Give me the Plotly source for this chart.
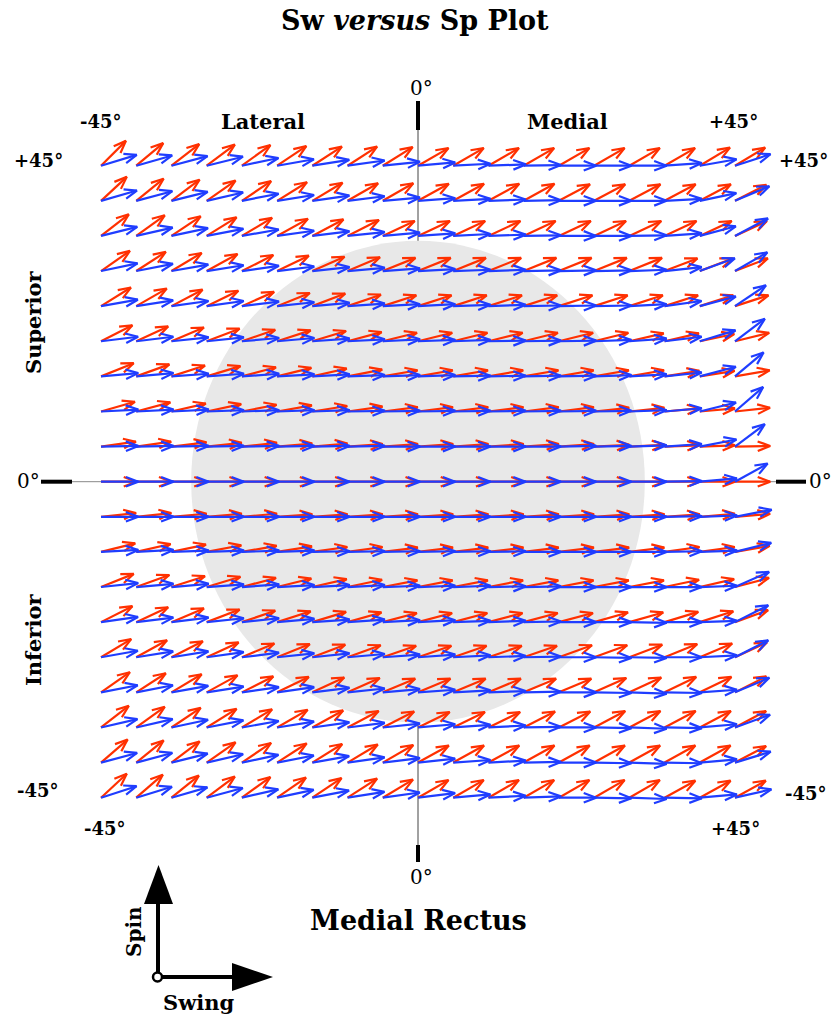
import math
import plotly.graph_objects as go

# ---------------- data ----------------
sw_cols = [-45, -40, -35, -30, -25, -20, -15, -10, -5, 0, 5, 10, 15, 20, 25, 30, 35, 40, 45]
sp_rows = [45, 40, 35, 30, 25, 20, 15, 10, 5, 0, -5, -10, -15, -20, -25, -30, -35, -40, -45]

# arrow directions (degrees, counter-clockwise from +Swing)
red_deg = [
    [45, 40, 38, 37, 36, 34, 33, 33, 32, 30, 30, 30, 30, 30, 30, 30, 30, 31, 31],
    [43, 39, 37, 35, 34, 32, 31, 30, 30, 29, 29, 29, 29, 28, 28, 28, 28, 28, 27],
    [38, 36, 34, 32, 31, 29, 28, 27, 25, 25, 25, 25, 25, 25, 25, 25, 25, 25, 25],
    [35, 33, 31, 29, 27, 26, 24, 23, 22, 22, 22, 22, 22, 22, 22, 22, 21, 21, 21],
    [32, 30, 28, 26, 24, 22, 21, 19, 18, 18, 18, 18, 18, 18, 18, 18, 18, 18, 18],
    [27, 25, 23, 21, 19, 18, 17, 15, 14, 14, 14, 14, 14, 14, 14, 13, 13, 12, 14],
    [22, 20, 18, 17, 15, 14, 13, 11, 10, 10, 10, 10, 10, 10, 10, 10, 9, 9, 10],
    [16, 15, 13, 12, 11, 10, 9, 8, 7, 7, 7, 7, 7, 7, 6, 6, 5, 5, 6],
    [8, 8, 7, 6, 6, 5, 5, 4, 4, 4, 4, 4, 4, 4, 3, 3, 2, 2, 1],
    [0, 0, 0, 0, 0, 0, 0, 0, 0, 0, 0, 0, 0, 0, 0, 0, 0, 0, 0],
    [6, 6, 5, 5, 5, 4, 4, 4, 4, 4, 4, 4, 4, 4, 4, 4, 4, 5, 5],
    [14, 13, 12, 11, 10, 9, 8, 8, 7, 7, 7, 7, 7, 7, 7, 7, 8, 8, 10],
    [22, 20, 18, 17, 15, 14, 13, 12, 11, 11, 11, 11, 11, 11, 11, 11, 12, 13, 15],
    [27, 25, 23, 21, 19, 18, 17, 16, 15, 15, 15, 15, 15, 15, 16, 16, 17, 18, 20],
    [31, 29, 27, 25, 23, 22, 21, 20, 19, 19, 19, 19, 19, 20, 20, 21, 22, 23, 25],
    [35, 33, 31, 29, 27, 26, 25, 24, 23, 23, 23, 23, 23, 23, 24, 25, 26, 26, 27],
    [38, 36, 34, 32, 31, 30, 29, 28, 27, 26, 26, 26, 27, 27, 28, 28, 28, 28, 28],
    [41, 39, 37, 35, 34, 33, 32, 31, 30, 29, 29, 29, 29, 29, 29, 29, 29, 29, 28],
    [43, 41, 39, 37, 36, 35, 34, 33, 31, 30, 30, 30, 30, 30, 30, 30, 29, 29, 29],
]
blue_deg = [
    [17, 16, 15, 14, 12, 10, 9, 8, 6, 5, 3, 2, 1, 0, 0, 0, 4, 10, 18],
    [16, 15, 14, 13, 11, 9, 8, 7, 5, 4, 3, 2, 1, 0, 0, 0, 3, 12, 23],
    [14, 13, 12, 11, 10, 8, 7, 6, 5, 4, 3, 2, 1, 0, 0, 1, 4, 15, 28],
    [12, 11, 10, 9, 8, 7, 6, 5, 4, 3, 2, 2, 1, 1, 1, 2, 6, 20, 30],
    [10, 9, 8, 8, 7, 6, 5, 4, 3, 3, 2, 2, 1, 1, 1, 3, 8, 15, 34],
    [7, 7, 6, 6, 5, 5, 4, 3, 3, 2, 2, 1, 1, 1, 2, 4, 7, 17, 37],
    [5, 5, 4, 4, 4, 3, 3, 2, 2, 2, 1, 1, 1, 1, 2, 3, 6, 15, 40],
    [3, 3, 3, 2, 2, 2, 2, 1, 1, 1, 1, 1, 1, 1, 1, 2, 5, 14, 41],
    [1, 1, 1, 1, 1, 1, 1, 1, 0, 0, 0, 0, 0, 1, 1, 2, 4, 11, 37],
    [0, 0, 0, 0, 0, 0, 0, 0, 0, 0, 0, 0, 0, 0, 0, 0, 1, 5, 29],
    [0, 0, 0, 0, 0, 0, 0, 0, 0, 0, 0, 0, 0, 0, 0, 0, 1, 2, 11],
    [3, 3, 2, 2, 2, 2, 1, 1, 1, 1, 1, 1, 0, 0, 0, 0, 1, 2, 14],
    [6, 5, 5, 4, 4, 3, 3, 3, 2, 2, 2, 1, 1, 0, 0, 0, 0, 2, 24],
    [8, 7, 7, 6, 6, 5, 4, 4, 3, 3, 2, 2, 1, 0, 0, -1, 0, 2, 27],
    [10, 9, 9, 8, 7, 6, 6, 5, 4, 4, 3, 2, 1, 0, -1, -1, 0, 3, 27],
    [11, 11, 10, 9, 8, 8, 7, 6, 5, 4, 3, 2, 1, 0, -1, -2, -1, 4, 23],
    [13, 13, 12, 11, 10, 9, 8, 7, 6, 5, 4, 3, 1, 0, -1, -2, -1, 5, 20],
    [15, 15, 14, 13, 12, 11, 10, 8, 7, 6, 4, 3, 1, 0, -1, -2, -1, 5, 17],
    [18, 17, 16, 15, 13, 12, 11, 9, 8, 7, 5, 3, 2, 0, -1, -2, -1, 5, 13],
]
red_len = 5.0        # degrees
blue_len = 5.3
head_len = 1.9
head_half_angle = 21

# ---------------- geometry ----------------
W, H = 835, 1019
PX_X = 7.044   # px per degree (x)
PX_Y = 7.022   # px per degree (y)
X0_PX, Y0_PX = 418.0, 481.7
x_range = [-X0_PX / PX_X, (W - X0_PX) / PX_X]
y_range = [-(H - Y0_PX) / PX_Y, Y0_PX / PX_Y]


def arrow_paths(angles, length):
    xs, ys = [], []
    for r, sp in enumerate(sp_rows):
        for c, sw in enumerate(sw_cols):
            a = math.radians(angles[r][c])
            tx = sw + length * math.cos(a)
            ty = sp + length * math.sin(a)
            xs += [sw, tx, None]
            ys += [sp, ty, None]
            b1 = a + math.pi + math.radians(head_half_angle)
            b2 = a + math.pi - math.radians(head_half_angle)
            xs += [tx + head_len * math.cos(b1), tx, tx + head_len * math.cos(b2), None]
            ys += [ty + head_len * math.sin(b1), ty, ty + head_len * math.sin(b2), None]
    return xs, ys


fig = go.Figure()
rx, ry = arrow_paths(red_deg, red_len)
bx, by = arrow_paths(blue_deg, blue_len)
fig.add_trace(go.Scatter(x=rx, y=ry, mode="lines", line=dict(color="#ff3000", width=2.2),
                         hoverinfo="skip", showlegend=False))
fig.add_trace(go.Scatter(x=bx, y=by, mode="lines", line=dict(color="#1f3dff", width=2.2),
                         hoverinfo="skip", showlegend=False))


def px(x):
    return x / W


def py(y):
    return 1 - y / H


shapes = []
# grey disc
shapes.append(dict(type="circle", xref="x", yref="y", x0=-32.2, x1=32.2, y0=-34.3, y1=34.3,
                   fillcolor="#e8e8e8", line=dict(width=0), layer="below"))
# thin axis lines
shapes.append(dict(type="line", xref="paper", yref="paper", x0=px(418), x1=px(418), y0=py(130), y1=py(845),
                   line=dict(color="#444444", width=1), layer="below"))
shapes.append(dict(type="line", xref="paper", yref="paper", x0=px(72), x1=px(776), y0=py(481.7), y1=py(481.7),
                   line=dict(color="#888888", width=1), layer="below"))
# thick ticks
for (xa, ya, xb, yb) in [(41, 481.7, 72, 481.7), (776, 481.7, 806, 481.7), (418, 101, 418, 130), (418, 845, 418, 862)]:
    shapes.append(dict(type="line", xref="paper", yref="paper", x0=px(xa), x1=px(xb), y0=py(ya), y1=py(yb),
                       line=dict(color="black", width=4)))
# legend arrows
shapes.append(dict(type="line", xref="paper", yref="paper", x0=px(158), x1=px(158), y0=py(977), y1=py(900),
                   line=dict(color="black", width=4)))
shapes.append(dict(type="line", xref="paper", yref="paper", x0=px(158), x1=px(236), y0=py(977), y1=py(977),
                   line=dict(color="black", width=4)))
shapes.append(dict(type="path", xref="paper", yref="paper",
                   path=f"M {px(144)} {py(904)} L {px(158.5)} {py(865)} L {px(173)} {py(904)} Z",
                   fillcolor="black", line=dict(width=0)))
shapes.append(dict(type="path", xref="paper", yref="paper",
                   path=f"M {px(232)} {py(963)} L {px(273)} {py(977)} L {px(232)} {py(991)} Z",
                   fillcolor="black", line=dict(width=0)))
shapes.append(dict(type="circle", xref="paper", yref="paper", x0=px(153), x1=px(162), y0=py(972.5), y1=py(981.5),
                   fillcolor="white", line=dict(color="black", width=2.5)))

SERIF = "DejaVu Serif"
ann = []


def text(t, x, y, size=18, bold=True, angle=0):
    s = f"<b>{t}</b>" if bold else t
    ann.append(dict(text=s, x=px(x), y=py(y), xref="paper", yref="paper", showarrow=False,
                    xanchor="center", yanchor="middle", textangle=angle,
                    font=dict(family=SERIF, size=size, color="black")))


text("Sw <i>versus</i> Sp Plot", 415, 20, size=27)
text("0°", 421, 88, size=20, bold=False)
text("-45°", 101, 122, size=18)
text("Lateral", 263, 122, size=21)
text("Medial", 567, 122, size=21)
text("+45°", 733, 122, size=18)
text("+45°", 38, 160, size=18)
text("+45°", 803, 160, size=18)
text("Superior", 33, 322, size=21, angle=-90)
text("Inferior", 33, 640, size=21, angle=-90)
text("0°", 28, 481, size=20, bold=False)
text("0°", 820, 481, size=20, bold=False)
text("-45°", 38, 790, size=18)
text("-45°", 806, 793, size=18)
text("-45°", 105, 828, size=18)
text("+45°", 735, 828, size=18)
text("0°", 421, 877, size=20, bold=False)
text("Medial Rectus", 418, 920, size=27)
text("Spin", 134, 932, size=20, angle=-90)
text("Swing", 198, 1002, size=21)

fig.update_layout(
    width=W, height=H, margin=dict(l=0, r=0, t=0, b=0),
    paper_bgcolor="white", plot_bgcolor="white",
    xaxis=dict(range=x_range, visible=False, fixedrange=True),
    yaxis=dict(range=y_range, visible=False, fixedrange=True),
    shapes=shapes, annotations=ann, showlegend=False,
)
fig.write_html("out.html", config={"displayModeBar": False},
               post_script="document.body.style.margin='0px';document.body.style.padding='0px';")
